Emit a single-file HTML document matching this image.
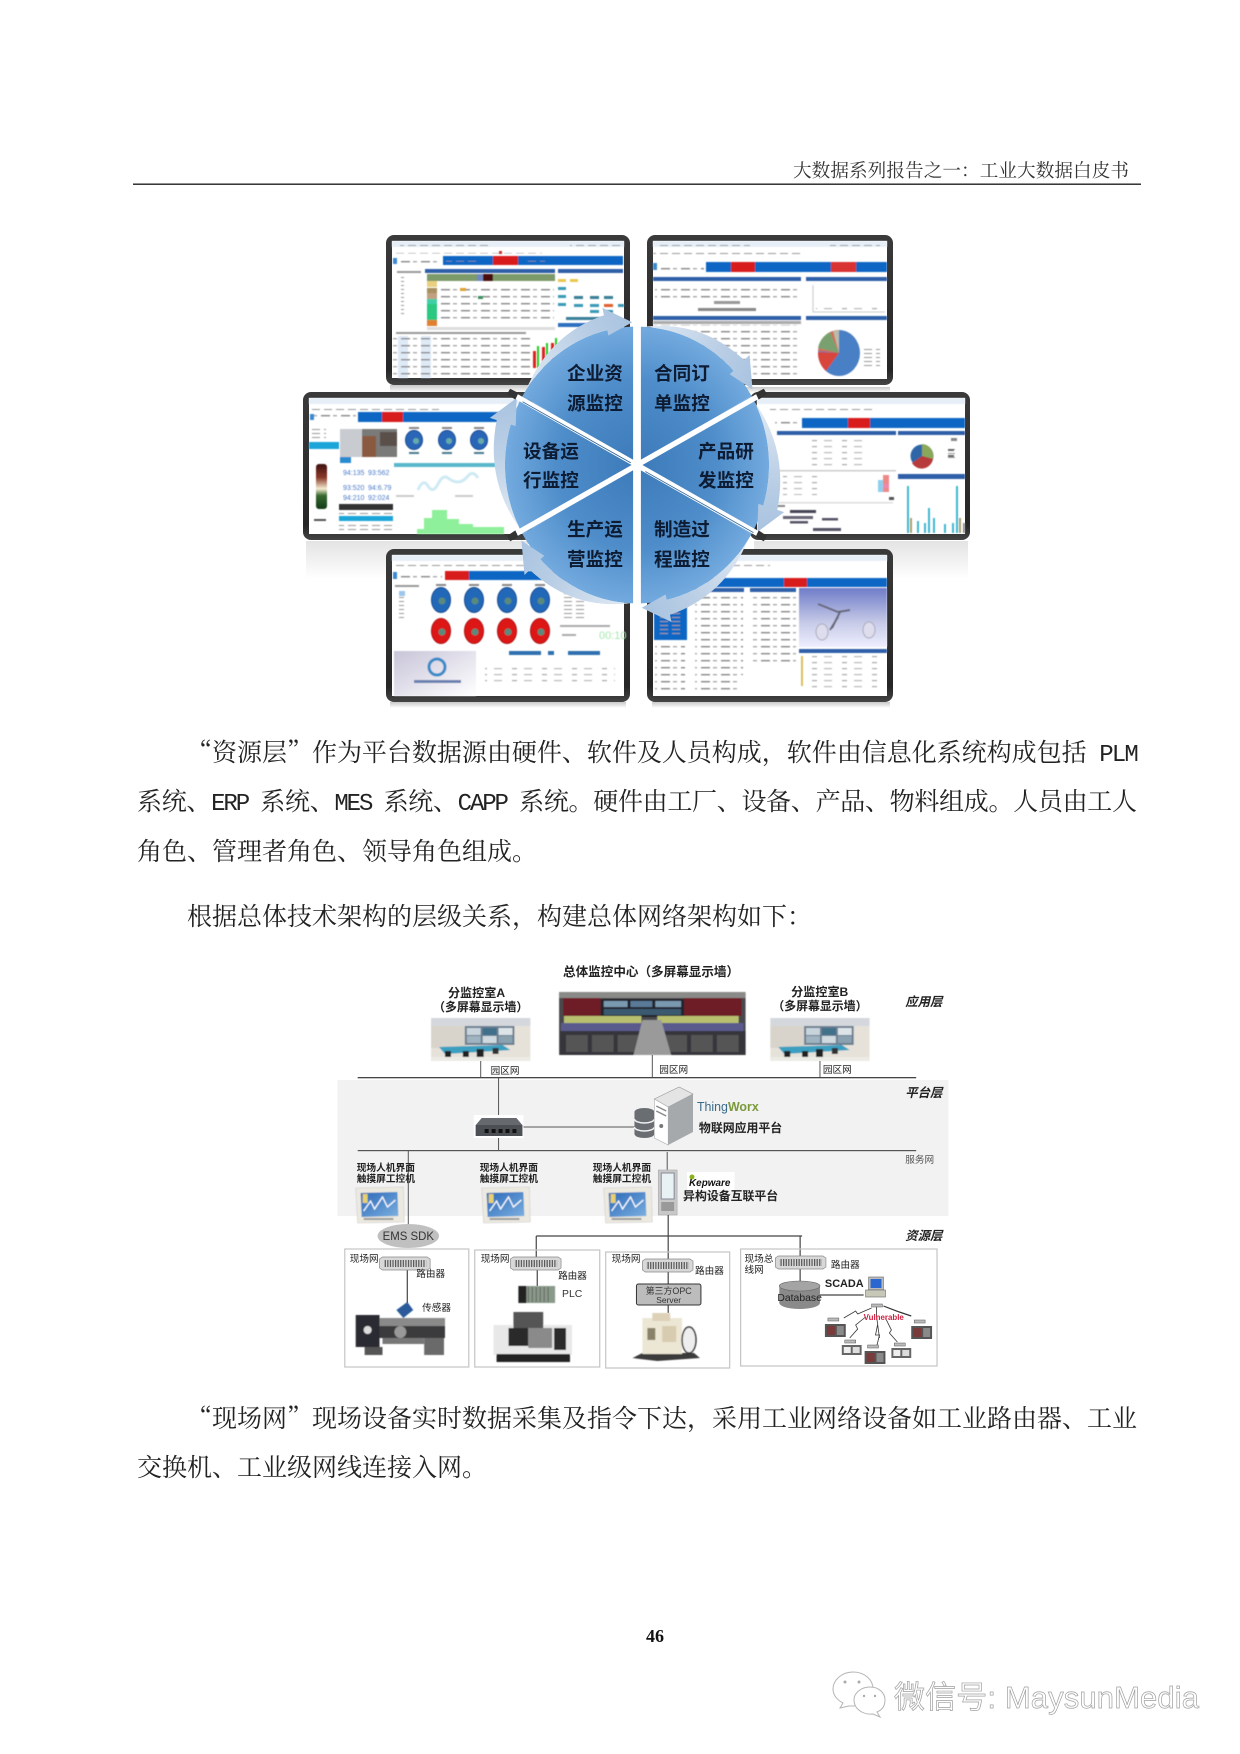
<!DOCTYPE html>
<html lang="zh-CN"><head><meta charset="utf-8"><title>工业大数据白皮书 46</title>
<style>
html,body{margin:0;padding:0;background:#fff}
svg{display:block}
.p{font-family:"Noto Serif CJK SC","Liberation Serif",serif;font-size:25px;fill:#222}
.m{font-family:"Liberation Mono",monospace;font-size:24px;letter-spacing:-1.8px}
.h{font-family:"Noto Serif CJK SC","Liberation Serif",serif;font-size:18.6px;fill:#333}
.w{font-family:"Liberation Sans","Noto Sans CJK SC",sans-serif;font-weight:700;font-size:18.6px;fill:#0d1c33}
.d{font-family:"Liberation Sans","Noto Sans CJK SC",sans-serif;fill:#222}
.db{font-weight:700}
.it{font-weight:700;font-style:italic;font-size:12.5px}
.t9{font-size:9.7px}
.t8{font-size:9px;fill:#444}
</style></head><body>
<svg xmlns="http://www.w3.org/2000/svg" width="1240" height="1754" viewBox="0 0 1240 1754">
<defs>
<filter id="b" x="-5%" y="-5%" width="110%" height="110%"><feGaussianBlur stdDeviation="0.6"/></filter>
<filter id="b2" x="-5%" y="-5%" width="110%" height="110%"><feGaussianBlur stdDeviation="0.7"/></filter>
<pattern id="tx" width="12" height="4" patternUnits="userSpaceOnUse"><rect x="0" y="1" width="8" height="1" fill="#9a9a9a"/></pattern>
<pattern id="tx2" width="20" height="7" patternUnits="userSpaceOnUse"><rect x="1" y="2" width="9" height="1.4" fill="#888"/><rect x="13" y="2" width="4" height="1.4" fill="#aaa"/></pattern>
<pattern id="tx3" width="30" height="6" patternUnits="userSpaceOnUse"><rect x="2" y="2" width="5" height="1.2" fill="#aaa"/><rect x="14" y="2" width="8" height="1.2" fill="#bbb"/></pattern>
<pattern id="rt" width="2.6" height="10" patternUnits="userSpaceOnUse"><rect width="1.2" height="10" fill="#555"/></pattern>
<linearGradient id="fr" x1="0" y1="0" x2="0" y2="1"><stop offset="0" stop-color="#3a3a3a"/><stop offset=".9" stop-color="#262626"/><stop offset="1" stop-color="#444"/></linearGradient>
<linearGradient id="rf" x1="0" y1="0" x2="0" y2="1"><stop offset="0" stop-color="#c8c8c8"/><stop offset="1" stop-color="#fff"/></linearGradient>
<linearGradient id="tl" x1="0" y1="0" x2="0" y2="1"><stop offset="0" stop-color="#401010"/><stop offset=".3" stop-color="#8a3a28"/><stop offset=".55" stop-color="#f4ecd0"/><stop offset=".7" stop-color="#3a6a30"/><stop offset="1" stop-color="#123a18"/></linearGradient>
<linearGradient id="lg" x1="0" y1="0" x2="1" y2="1"><stop offset="0" stop-color="#c8c4d8"/><stop offset="1" stop-color="#fff"/></linearGradient>
<linearGradient id="v3" x1="0" y1="0" x2="0" y2="1"><stop offset="0" stop-color="#6f7cc8"/><stop offset=".6" stop-color="#c8cce8"/><stop offset="1" stop-color="#eef"/></linearGradient>
<radialGradient id="sg" gradientUnits="userSpaceOnUse" cx="0" cy="0" r="128"><stop offset="0" stop-color="#3c7ab9"/><stop offset=".6" stop-color="#4e8dca"/><stop offset="1" stop-color="#74abdf"/></radialGradient>
<linearGradient id="ag" gradientUnits="userSpaceOnUse" x1="0" y1="-127" x2="110" y2="-70"><stop offset="0" stop-color="#e4ecf5"/><stop offset=".6" stop-color="#bcd0e6"/><stop offset="1" stop-color="#a9c3e0"/></linearGradient>
<linearGradient id="hm" x1="0" y1="0" x2="1" y2="1"><stop offset="0" stop-color="#2a68b8"/><stop offset="1" stop-color="#7cb0e0"/></linearGradient>
<g id="sec"><path d="M0,0 L0,-127 A127,127 0 0 1 110,-63.5 Z" fill="url(#sg)"/></g>
<g id="arr"><path d="M6.6,-126.8 Q62,-133 103.1,-96.2 L108.2,-100.9 L111.1,-69.4 L89.2,-83.2 L92.9,-86.6 A127,127 0 0 0 6.6,-126.8 Z" fill="url(#ag)"/></g>
<g id="room">
 <rect width="100" height="43" fill="#e6e2da"/>
 <rect width="100" height="8" fill="#d4d8dc"/>
 <rect x="0" y="8" width="34" height="22" fill="#d8d4cc"/>
 <rect x="34" y="8" width="50" height="19" fill="#6c7e90"/>
 <rect x="36" y="10" width="14" height="7" fill="#c8d4dc"/><rect x="52" y="10" width="14" height="7" fill="#3f6f8a"/><rect x="68" y="10" width="14" height="7" fill="#dde4e8"/>
 <rect x="36" y="18" width="14" height="7" fill="#9fb4c0"/><rect x="52" y="18" width="14" height="7" fill="#cfdae0"/><rect x="68" y="18" width="14" height="7" fill="#8aa2b0"/>
 <path d="M8,29 L72,27 L80,32 L14,36 Z" fill="#3c9fc0"/>
 <rect x="14" y="33" width="6" height="6" fill="#222"/><rect x="32" y="33" width="6" height="7" fill="#222"/><rect x="46" y="31" width="7" height="8" fill="#222"/><rect x="62" y="30" width="6" height="6" fill="#333"/>
 <rect x="0" y="39" width="100" height="4" fill="#ecebe5"/>
</g>
<g id="hmi">
 <path d="M1,1 L49,0 L50,35 L3,36 Z" fill="#ece9e0" stroke="#ccc" stroke-width=".6"/>
 <path d="M6,6 L43,5 L44,29 L7,30 Z" fill="url(#hm)"/>
 <path d="M9,24 L16,14 L20,22 L28,10 L33,20 L41,13" stroke="#fff" fill="none" stroke-width="1.2"/>
 <rect x="8" y="7" width="5" height="9" fill="#e8d070"/>
 <rect x="9" y="31" width="30" height="2" fill="#999"/>
</g>
<g id="rtr">
 <path d="M0,2 L3,0 L48,0 L51,2 L51,11 L48,13 L3,13 L0,11 Z" fill="#d8d8d8" stroke="#888" stroke-width=".7"/>
 <rect x="4" y="3" width="43" height="7" fill="url(#rt)"/>
</g>
<g id="rk"><rect width="21" height="13" fill="#555"/><rect x="2" y="2" width="8" height="9" fill="#7a3a3a"/><rect x="12" y="2" width="7" height="9" fill="#8a8a8a"/><rect x="3" y="-6" width="11" height="3" fill="#bbb" stroke="#555" stroke-width=".5"/></g>
<g id="mc"><rect width="20" height="10" fill="#666"/><rect x="2" y="2" width="7" height="6" fill="#eee"/><rect x="11" y="2" width="7" height="6" fill="#ddd"/><rect x="3" y="-5" width="11" height="3" fill="#bbb" stroke="#555" stroke-width=".5"/></g>
</defs>

<!-- header -->
<text class="h" x="793" y="177" textLength="336" lengthAdjust="spacing">大数据系列报告之一：工业大数据白皮书</text>
<rect x="133" y="183.5" width="1008" height="1.4" fill="#222"/>

<!-- reflections -->
<rect x="390" y="385" width="236" height="8" fill="url(#rf)"/>
<rect x="652" y="387" width="238" height="6" fill="url(#rf)"/>
<rect x="306" y="541" width="222" height="38" fill="url(#rf)" opacity=".5"/>
<rect x="754" y="541" width="214" height="38" fill="url(#rf)" opacity=".5"/>
<rect x="390" y="702" width="236" height="6" fill="url(#rf)"/>
<rect x="652" y="702" width="238" height="6" fill="url(#rf)"/>

<!-- panel TL -->
<rect x="386" y="235" width="244" height="150" rx="8" fill="url(#fr)"/>
<rect x="392" y="241" width="232" height="137" fill="#fff"/>
<g filter="url(#b)">
 <rect x="392" y="241" width="232" height="6" fill="#e6eff7"/><rect x="400" y="245" width="90" height="2" fill="url(#tx)"/>
 <rect x="570" y="244" width="50" height="3" fill="url(#tx)"/>
 <rect x="392" y="251" width="150" height="2.5" fill="url(#tx)"/><rect x="499" y="251" width="3" height="3" fill="#c33"/>
 <rect x="396" y="258" width="44" height="6" fill="url(#tx2)"/><rect x="393" y="258" width="4" height="6" fill="#3a8ad0"/>
 <rect x="443" y="256" width="180" height="9" fill="#0b66c3"/><rect x="493" y="256" width="25" height="9" fill="#d81e1e"/>
 <rect x="446" y="259" width="30" height="2.5" fill="url(#tx)"/><rect x="525" y="259" width="20" height="2.5" fill="url(#tx)"/>
 <rect x="425" y="269" width="130" height="4" fill="#2d5fa8"/><rect x="558" y="269" width="65" height="4" fill="#2d5fa8"/>
 <rect x="397" y="271" width="24" height="2" fill="#999"/><rect x="401" y="277" width="4" height="40" fill="url(#tx)"/>
 <rect x="427" y="274" width="128" height="7" fill="#7d9a6a"/><rect x="477" y="274" width="8" height="7" fill="#6f88c0"/><rect x="483" y="274" width="10" height="7" fill="#4a1010"/>
 <rect x="427" y="281" width="10" height="6" fill="#e8d080"/><rect x="427" y="288" width="10" height="5" fill="#a89060"/><rect x="427" y="293" width="10" height="6" fill="#c0a080"/>
 <rect x="427" y="299" width="10" height="5" fill="#40d0a8"/><rect x="427" y="304" width="10" height="16" fill="#2cc880"/><rect x="427" y="320" width="10" height="6" fill="#e08030"/>
 <rect x="438" y="286" width="116" height="36" fill="url(#tx2)"/>
 <rect x="460" y="288" width="6" height="3" fill="#e0a030" /><rect x="478" y="296" width="5" height="3" fill="#3a9060"/>
 <rect x="427" y="327" width="128" height="3" fill="#ddd"/>
 <rect x="558" y="279" width="8" height="3" fill="#e8c850"/><rect x="570" y="279" width="8" height="3" fill="#e8c850"/>
 <rect x="558" y="287" width="8" height="3" fill="#3a9ab8"/><rect x="558" y="295" width="8" height="3" fill="#3a9ab8"/><rect x="558" y="303" width="8" height="3" fill="#3a9ab8"/>
 <rect x="574" y="296" width="9" height="3" fill="#3a7f98"/><rect x="590" y="296" width="9" height="3" fill="#3a7f98"/><rect x="604" y="296" width="9" height="3" fill="#3a7f98"/>
 <rect x="574" y="304" width="9" height="3" fill="#3a9ab8"/><rect x="590" y="304" width="9" height="3" fill="#3a9ab8"/><rect x="604" y="304" width="9" height="3" fill="#e06030"/>
 <rect x="590" y="310" width="9" height="3" fill="#3a9ab8"/><rect x="604" y="310" width="9" height="3" fill="#3a9ab8"/><rect x="618" y="304" width="6" height="3" fill="#3a9ab8"/>
 <rect x="566" y="317" width="40" height="3" fill="#3a7f98"/><rect x="558" y="323" width="65" height="4" fill="#2d6fc0"/>
 <rect x="396" y="332" width="130" height="2" fill="#999"/>
 <rect x="398" y="336" width="10" height="42" fill="#dfeaf7"/><rect x="421" y="336" width="10" height="42" fill="#dfeaf7"/>
 <rect x="392" y="336" width="140" height="42" fill="url(#tx2)"/>
 <rect x="533" y="351" width="3" height="17" fill="#d22"/><rect x="537" y="346" width="2" height="22" fill="#2c2"/>
 <rect x="542" y="347" width="3" height="21" fill="#d22"/><rect x="546" y="343" width="2" height="25" fill="#2c2"/><rect x="551" y="343" width="3" height="20" fill="#d22"/><rect x="555" y="338" width="2" height="24" fill="#2c2"/>
</g>

<!-- panel TR -->
<rect x="647" y="235" width="246" height="150" rx="8" fill="url(#fr)"/>
<rect x="653" y="241" width="234" height="138" fill="#fff"/>
<g filter="url(#b)">
 <rect x="653" y="241" width="234" height="6" fill="#e6eff7"/><rect x="660" y="245" width="90" height="2" fill="url(#tx)"/><rect x="830" y="244" width="50" height="3" fill="url(#tx)"/>
 <rect x="653" y="252" width="150" height="2.5" fill="url(#tx)"/>
 <rect x="656" y="263" width="48" height="7" fill="url(#tx2)"/><rect x="653" y="263" width="4" height="7" fill="#3a8ad0"/>
 <rect x="706" y="262" width="181" height="10" fill="#0b66c3"/><rect x="731" y="262" width="24" height="10" fill="#d81e1e"/><rect x="831" y="262" width="25" height="10" fill="#d83030"/>
 <rect x="708" y="266" width="120" height="2" fill="url(#tx)"/>
 <rect x="653" y="277" width="148" height="4" fill="#2d5fa8"/><rect x="806" y="277" width="81" height="4" fill="#2d5fa8"/>
 <rect x="655" y="284" width="144" height="16" fill="url(#tx2)"/>
 <rect x="714" y="301" width="26" height="3" fill="#999"/><rect x="698" y="308" width="58" height="3" fill="#888"/>
 <path d="M813,285 V312 H885" stroke="#bbb" fill="none" stroke-width=".8"/><rect x="816" y="304" width="68" height="7" fill="url(#tx3)"/>
 <rect x="653" y="316" width="148" height="4" fill="#2d5fa8"/><rect x="806" y="316" width="81" height="4" fill="#2d5fa8"/>
 <rect x="653" y="321" width="148" height="3" fill="#aaa"/><rect x="653" y="325" width="148" height="52" fill="url(#tx2)"/>
 <ellipse cx="839" cy="353" rx="21" ry="23" fill="#4a7fc4"/>
 <path d="M839,353 L839,330 A21,23 0 0 0 818,351 Z" fill="#d0705a"/>
 <path d="M839,353 L830,332 A21,23 0 0 0 818,348 Z" fill="#7aa070"/>
 <path d="M839,353 L818,352 A21,23 0 0 0 826,371 Z" fill="#d8453a"/>
 <path d="M839,353 L833,331 L839,330 Z" fill="#bba"/>
 <rect x="864" y="348" width="16" height="18" fill="url(#tx)"/>
</g>

<!-- panel ML -->
<rect x="303" y="392" width="229" height="148" rx="8" fill="url(#fr)"/>
<rect x="309" y="398" width="218" height="136" fill="#fff"/>
<g filter="url(#b)">
 <rect x="309" y="398" width="218" height="6" fill="#e6eff7"/><rect x="318" y="402" width="90" height="2" fill="url(#tx)"/><rect x="475" y="402" width="40" height="3" fill="url(#tx)"/>
 <rect x="309" y="408" width="130" height="2.5" fill="url(#tx)"/>
 <rect x="310" y="414" width="46" height="6" fill="url(#tx2)"/><rect x="310" y="414" width="4" height="6" fill="#3a8ad0"/>
 <rect x="358" y="412" width="142" height="10" fill="#0b66c3"/><rect x="382" y="412" width="21" height="10" fill="#d81e1e"/>
 <rect x="309" y="442" width="30" height="7" fill="#1ea5d8"/>
 <rect x="310" y="427" width="16" height="12" fill="url(#tx)"/>
 <rect x="340" y="429" width="57" height="28" fill="#7a7a78"/><rect x="340" y="429" width="22" height="28" fill="#c8ccd0"/><rect x="362" y="436" width="14" height="21" fill="#8a5a40"/><rect x="380" y="432" width="17" height="14" fill="#5a5048"/>
 <ellipse cx="414" cy="440" rx="8.5" ry="9.5" fill="#2a66b8" stroke="#184a90"/><circle cx="416" cy="441" r="3" fill="#6aa"/>
 <ellipse cx="447" cy="440" rx="8.5" ry="9.5" fill="#2a66b8" stroke="#184a90"/><circle cx="449" cy="441" r="3" fill="#6aa"/>
 <ellipse cx="479" cy="440" rx="8.5" ry="9.5" fill="#2a66b8" stroke="#184a90"/><circle cx="481" cy="441" r="3" fill="#6aa"/>
 <rect x="409" y="427" width="10" height="2" fill="#888"/><rect x="442" y="427" width="10" height="2" fill="#888"/><rect x="474" y="427" width="10" height="2" fill="#888"/>
 <rect x="409" y="452" width="10" height="2" fill="#4a7a8a"/><rect x="442" y="452" width="10" height="2" fill="#4a7a8a"/><rect x="474" y="452" width="10" height="2" fill="#4a7a8a"/>
 <rect x="316" y="464" width="11" height="45" rx="3" fill="url(#tl)"/>
 <rect x="340" y="457" width="11" height="6" fill="#2a8ad0"/>
 <text class="d" x="343" y="475" font-size="7" style="fill:#4a7ac8">94:135</text><text class="d" x="368" y="475" font-size="7" style="fill:#4a7ac8">93:562</text>
 <text class="d" x="343" y="490" font-size="7" style="fill:#4a7ac8">93:520</text><text class="d" x="368" y="490" font-size="7" style="fill:#4a7ac8">94:6.79</text>
 <text class="d" x="343" y="500" font-size="7" style="fill:#4a7ac8">94:210</text><text class="d" x="368" y="500" font-size="7" style="fill:#4a7ac8">92:024</text>
 <rect x="339" y="504" width="54" height="6" fill="#333"/><rect x="339" y="511" width="54" height="3" fill="url(#tx)"/><rect x="339" y="516" width="54" height="5" fill="#1ea5d8"/><rect x="339" y="524" width="54" height="7" fill="url(#tx)"/>
 <rect x="314" y="519" width="12" height="2" fill="#555"/>
 <rect x="394" y="463" width="103" height="4" fill="#5ab8cc"/>
 <path d="M418,490 q5,-12 10,-4 t10,-2 t10,-6 t10,4 t10,-6 t10,2" stroke="#cfeaf4" stroke-width="3" fill="none"/>
 <rect x="396" y="495" width="18" height="2" fill="#ccc"/><rect x="455" y="495" width="18" height="2" fill="#ccc"/>
 <path d="M402,534 L417,534 L417,529 L424,529 L424,518 L432,518 L432,510 L447,510 L447,519 L459,519 L459,524 L473,524 L473,527 L504,527 L504,534 Z" fill="#8ef09a"/>
</g>

<!-- panel MR -->
<rect x="750" y="392" width="220" height="148" rx="8" fill="url(#fr)"/>
<rect x="757" y="398" width="208" height="136" fill="#fff"/>
<g filter="url(#b)">
 <rect x="757" y="398" width="208" height="6" fill="#e6eff7"/><rect x="775" y="402" width="70" height="2" fill="url(#tx)"/><rect x="917" y="402" width="40" height="3" fill="url(#tx)"/>
 <rect x="770" y="408" width="105" height="2.5" fill="url(#tx)"/>
 <rect x="775" y="419" width="26" height="7" fill="url(#tx2)"/>
 <rect x="802" y="418" width="163" height="10" fill="#0b66c3"/><rect x="848" y="418" width="22" height="10" fill="#d81e1e"/>
 <rect x="777" y="431" width="119" height="4" fill="#2d5fa8"/><rect x="898" y="431" width="67" height="4" fill="#2d5fa8"/>
 <rect x="810" y="440" width="60" height="30" fill="url(#tx3)"/>
 <circle cx="922" cy="456" r="11.5" fill="#2f66a8"/><path d="M922,456 L922,444 A11.5,12 0 0 1 933,459 Z" fill="#8aa85a"/><path d="M922,456 L933,459 A11.5,12 0 0 1 912,463 Z" fill="#b83a3a"/>
 <rect x="948" y="449" width="7" height="11" fill="url(#tx)"/><rect x="948" y="449" width="6" height="2" fill="#666"/><rect x="948" y="455" width="6" height="2" fill="#666"/><rect x="951" y="438" width="6" height="3" fill="#888"/>
 <rect x="777" y="470" width="119" height="1.5" fill="#ccc"/><rect x="898" y="474" width="67" height="5" fill="#2d5fa8"/>
 <rect x="783" y="475" width="40" height="20" fill="url(#tx3)"/>
 <rect x="883" y="475" width="6" height="5" fill="#e88"/><rect x="883" y="480" width="6" height="4" fill="#e88"/><rect x="883" y="484" width="6" height="4" fill="#e8a"/><rect x="883" y="488" width="6" height="4" fill="#e88"/>
 <rect x="878" y="480" width="5" height="12" fill="#8cd0ee"/><rect x="889" y="497" width="5" height="3" fill="#555"/>
 <rect x="778" y="502" width="115" height="1.5" fill="#ddd"/>
 <rect x="775" y="505" width="10" height="2" fill="#888"/><rect x="790" y="510" width="26" height="3" fill="#445"/><rect x="783" y="516" width="30" height="3" fill="#667"/><rect x="790" y="521" width="18" height="2.5" fill="#556"/><rect x="822" y="518" width="16" height="2.5" fill="#556"/><rect x="813" y="528" width="28" height="3" fill="#556"/>
 <rect x="907" y="486" width="2" height="47" fill="#40b8d0"/><rect x="910" y="518" width="2" height="15" fill="#a8a070"/>
 <rect x="917" y="521" width="2" height="12" fill="#40b8d0"/><rect x="924" y="523" width="2" height="10" fill="#40b8d0"/><rect x="928" y="508" width="2" height="25" fill="#40b8d0"/><rect x="933" y="518" width="2" height="15" fill="#40b8d0"/>
 <rect x="944" y="524" width="2" height="9" fill="#40b8d0"/><rect x="952" y="523" width="2" height="10" fill="#40b8d0"/><rect x="956" y="486" width="2" height="47" fill="#40b8d0"/><rect x="959" y="518" width="2" height="15" fill="#a8a070"/><rect x="963" y="523" width="2" height="10" fill="#888"/>
</g>

<!-- panel BL -->
<rect x="386" y="549" width="244" height="153" rx="8" fill="url(#fr)"/>
<rect x="392" y="555" width="232" height="141" fill="#fff"/>
<g filter="url(#b)">
 <rect x="392" y="555" width="232" height="6" fill="#e6eff7"/><rect x="400" y="559" width="90" height="2" fill="url(#tx)"/><rect x="570" y="558" width="50" height="3" fill="url(#tx)"/>
 <rect x="392" y="565" width="150" height="2.5" fill="url(#tx)"/>
 <rect x="396" y="572" width="46" height="7" fill="url(#tx2)"/><rect x="393" y="572" width="4" height="7" fill="#3a8ad0"/>
 <rect x="445" y="571" width="178" height="9" fill="#0b66c3"/><rect x="445" y="571" width="24" height="9" fill="#d81e1e"/>
 <rect x="395" y="585" width="24" height="2" fill="#999"/><rect x="399" y="590" width="5" height="30" fill="url(#tx)"/><rect x="399" y="591" width="6" height="5" fill="#9cc6ea"/>
 <g fill="#2268b8" stroke="#184a90"><ellipse cx="441" cy="600" rx="9.5" ry="12.5"/><ellipse cx="474" cy="600" rx="9.5" ry="12.5"/><ellipse cx="507" cy="600" rx="9.5" ry="12.5"/><ellipse cx="540" cy="600" rx="9.5" ry="12.5"/></g>
 <g fill="#dd1818" stroke="#b01010"><ellipse cx="441" cy="631" rx="9.5" ry="12.5"/><ellipse cx="474" cy="631" rx="9.5" ry="12.5"/><ellipse cx="507" cy="631" rx="9.5" ry="12.5"/><ellipse cx="540" cy="631" rx="9.5" ry="12.5"/></g>
 <g fill="#5a8a7a"><circle cx="442" cy="601" r="3.5"/><circle cx="475" cy="601" r="3.5"/><circle cx="508" cy="601" r="3.5"/><circle cx="541" cy="601" r="3.5"/><circle cx="442" cy="632" r="3.5"/><circle cx="475" cy="632" r="3.5"/><circle cx="508" cy="632" r="3.5"/><circle cx="541" cy="632" r="3.5"/></g>
 <rect x="436" y="584" width="10" height="2" fill="#888"/><rect x="469" y="584" width="10" height="2" fill="#888"/><rect x="502" y="584" width="10" height="2" fill="#888"/><rect x="535" y="584" width="10" height="2" fill="#888"/>
 <rect x="560" y="590" width="28" height="30" fill="url(#tx)"/>
 <rect x="394" y="651" width="82" height="45" fill="url(#lg)"/>
 <circle cx="437" cy="667" r="8" fill="none" stroke="#3a8ac8" stroke-width="3"/><rect x="414" y="680" width="47" height="3" fill="#6a80b0"/>
 <rect x="509" y="651" width="32" height="4" fill="#2d6fb0"/><rect x="548" y="651" width="6" height="4" fill="#2d6fb0"/><rect x="568" y="651" width="32" height="4" fill="#2d6fb0"/>
 <rect x="560" y="625" width="50" height="2" fill="#aaa"/><rect x="562" y="634" width="14" height="2" fill="#aaa"/>
 <text class="d" x="599" y="639" font-size="11" style="fill:#a8e8b0">00:10</text>
 <rect x="485" y="668" width="130" height="18" fill="url(#tx3)"/>
</g>

<!-- panel BR -->
<rect x="647" y="549" width="246" height="153" rx="8" fill="url(#fr)"/>
<rect x="653" y="555" width="234" height="141" fill="#fff"/>
<g filter="url(#b)">
 <rect x="653" y="555" width="234" height="6" fill="#e6eff7"/><rect x="830" y="558" width="50" height="3" fill="url(#tx)"/>
 <rect x="720" y="565" width="50" height="2.5" fill="url(#tx)"/>
 <rect x="706" y="578" width="181" height="9" fill="#0b66c3"/><rect x="784" y="578" width="23" height="9" fill="#d81e1e"/>
 <rect x="694" y="588" width="50" height="4" fill="#2d5fa8"/><rect x="750" y="588" width="46" height="4" fill="#2d5fa8"/>
 <rect x="654" y="602" width="33" height="38" fill="#0b66c3"/><rect x="656" y="605" width="28" height="32" fill="url(#tx)"/>
 <rect x="695" y="595" width="48" height="80" fill="url(#tx2)"/><rect x="752" y="595" width="44" height="72" fill="url(#tx2)"/>
 <rect x="655" y="645" width="30" height="48" fill="url(#tx2)"/><rect x="695" y="675" width="45" height="19" fill="url(#tx2)"/>
 <rect x="799" y="588" width="88" height="59" fill="url(#v3)"/>
 <path d="M818,604 L838,612 L850,610 M840,612 L832,628 M838,617 L830,630" stroke="#667" stroke-width="2" fill="none"/>
 <ellipse cx="822" cy="632" rx="6" ry="8" fill="#dde" stroke="#aab"/><ellipse cx="869" cy="630" rx="6" ry="8" fill="#dde" stroke="#aab"/>
 <rect x="799" y="649" width="88" height="4" fill="#2d5fa8"/>
 <rect x="802" y="656" width="80" height="36" fill="url(#tx3)"/><rect x="801" y="656" width="2" height="30" fill="#d8c060"/>
</g>

<!-- central wheel -->
<g transform="translate(637,465) scale(1.04,1.09)">
 <use href="#sec"/><use href="#sec" transform="rotate(60)"/><use href="#sec" transform="rotate(120)"/><use href="#sec" transform="rotate(180)"/><use href="#sec" transform="rotate(240)"/><use href="#sec" transform="rotate(300)"/>
 <use href="#arr"/><use href="#arr" transform="rotate(60)"/><use href="#arr" transform="rotate(120)"/><use href="#arr" transform="rotate(180)"/><use href="#arr" transform="rotate(240)"/><use href="#arr" transform="rotate(300)"/>
 <g stroke="#fff" stroke-linecap="round">
  <line x1="0" y1="-136" x2="0" y2="136" stroke-width="7.5"/>
  <line x1="-118" y1="-64" x2="118" y2="64" stroke-width="5"/>
  <line x1="118" y1="-64" x2="-118" y2="64" stroke-width="5"/>
 </g>
 <line x1="-110" y1="-58" x2="-6" y2="-2" stroke="#3a6a9a" stroke-width=".8"/>
 <line x1="8" y1="6" x2="112" y2="62" stroke="#3a6a9a" stroke-width=".8"/>
 <path d="M-122,-70 l8,4 -3,6 -8,-5Z M122,-70 l-8,4 3,6 8,-5Z M-122,70 l8,-4 -3,-6 -8,5Z M122,70 l-8,-4 3,-6 8,5Z" fill="#333"/>
</g>
<text class="w" x="567" y="380">企业资</text><text class="w" x="567" y="410">源监控</text>
<text class="w" x="654" y="380">合同订</text><text class="w" x="654" y="410">单监控</text>
<text class="w" x="523" y="458">设备运</text><text class="w" x="523" y="487">行监控</text>
<text class="w" x="698" y="458">产品研</text><text class="w" x="698" y="487">发监控</text>
<text class="w" x="567" y="536">生产运</text><text class="w" x="567" y="566">营监控</text>
<text class="w" x="654" y="536">制造过</text><text class="w" x="654" y="566">程监控</text>

<!-- paragraph 1 -->
<text class="p" x="187" y="761" textLength="950" lengthAdjust="spacing">“资源层”作为平台数据源由硬件、软件及人员构成，软件由信息化系统构成包括<tspan class="m"> PLM</tspan></text>
<text class="p" x="137" y="810" textLength="1000" lengthAdjust="spacing">系统、<tspan class="m">ERP </tspan>系统、<tspan class="m">MES </tspan>系统、<tspan class="m">CAPP </tspan>系统。硬件由工厂、设备、产品、物料组成。人员由工人</text>
<text class="p" x="137" y="860">角色、管理者角色、领导角色组成。</text>
<text class="p" x="187" y="925">根据总体技术架构的层级关系，构建总体网络架构如下：</text>

<!-- network diagram -->
<g transform="translate(320,0) scale(.992,1) translate(-320,0)">
 <rect x="337.5" y="1080" width="616" height="136" fill="#f2f2f2"/>
 <text class="d db" x="565" y="976" font-size="12.7">总体监控中心（多屏幕显示墙）</text>
 <text class="d db" x="449" y="997" font-size="12.2">分监控室A</text><text class="d db" x="434" y="1011" font-size="12">（多屏幕显示墙）</text>
 <text class="d db" x="795" y="996" font-size="12.2">分监控室B</text><text class="d db" x="776" y="1010" font-size="12">（多屏幕显示墙）</text>
 <text class="d it" x="910" y="1006">应用层</text><text class="d it" x="910" y="1097">平台层</text><text class="d it" x="910" y="1240">资源层</text>

 <!-- rooms -->
 <g filter="url(#b)"><use href="#room" transform="translate(432,1018)"/><use href="#room" transform="translate(774,1018)"/>
 <rect x="561" y="992" width="188" height="63" fill="#4a4a4e"/><rect x="561" y="992" width="188" height="6" fill="#8a8a88"/>
 <rect x="565" y="998" width="38" height="18" fill="#6e1f25"/><rect x="687" y="998" width="58" height="18" fill="#6e1f25"/>
 <rect x="603" y="999" width="84" height="18" fill="#20242c"/><rect x="606" y="1001" width="24" height="6" fill="#7a9ab0"/><rect x="633" y="1001" width="22" height="6" fill="#5a7a98"/><rect x="658" y="1001" width="26" height="6" fill="#7a9ab0"/><rect x="606" y="1009" width="78" height="6" fill="#3a5a70"/>
 <rect x="566" y="1016" width="78" height="7" fill="#b8c070"/><rect x="660" y="1016" width="82" height="7" fill="#b8c070"/>
 <rect x="563" y="1023" width="82" height="8" fill="#5a5a8c"/><rect x="665" y="1023" width="82" height="8" fill="#5a5a8c"/>
 <rect x="562" y="1031" width="84" height="24" fill="#35353a"/><rect x="664" y="1031" width="85" height="24" fill="#35353a"/>
 <rect x="568" y="1035" width="22" height="17" fill="#555"/><rect x="594" y="1035" width="22" height="17" fill="#555"/><rect x="620" y="1035" width="22" height="17" fill="#555"/>
 <rect x="668" y="1035" width="22" height="17" fill="#555"/><rect x="694" y="1035" width="22" height="17" fill="#555"/><rect x="720" y="1035" width="22" height="17" fill="#555"/>
 <path d="M645,1020 L664,1020 L674,1055 L636,1055 Z" fill="#9a9a9a"/></g>

 <text class="d t9" x="492" y="1074">园区网</text><text class="d t9" x="662" y="1073">园区网</text><text class="d t9" x="827" y="1073">园区网</text>
 <g stroke="#555" stroke-width="1" fill="none">
  <path d="M482,1061 V1078 M655,1055 V1078 M824,1061 V1078"/>
  <path d="M500,1078 V1115 M500,1138 V1151 M525,1127 H637"/>
  <path d="M409,1151 V1227 M670,1152 V1170"/>
 </g>
 <rect x="358" y="1077" width="563" height="1.3" fill="#444"/>
 <rect x="358" y="1150" width="563" height="1.2" fill="#555"/>

 <!-- switch -->
 <rect x="475" y="1115" width="50" height="23" fill="#fff"/>
 <path d="M477,1125 L483,1118 L518,1118 L524,1125 L524,1136 L477,1136 Z" fill="#666a6e"/>
 <rect x="477" y="1125" width="47" height="11" fill="#4c5054"/>
 <g fill="#111"><rect x="486" y="1129" width="4" height="4"/><rect x="493" y="1129" width="4" height="4"/><rect x="500" y="1129" width="4" height="4"/><rect x="507" y="1129" width="4" height="4"/><rect x="514" y="1129" width="4" height="4"/></g>

 <!-- server and db -->
 <path d="M637,1112 a10,4 0 0 1 20,0 v22 a10,4 0 0 1 -20,0 Z" fill="#6a6e72"/>
 <path d="M637,1119 a10,4 0 0 0 20,0 M637,1127 a10,4 0 0 0 20,0" stroke="#f2f2f2" fill="none" stroke-width="1.5"/>
 <path d="M657,1099 L682,1087 L696,1094 L671,1107 Z" fill="#e4e4e4" stroke="#999" stroke-width=".6"/>
 <path d="M657,1099 L671,1107 L671,1145 L657,1138 Z" fill="#fff" stroke="#aaa" stroke-width=".6"/>
 <path d="M671,1107 L696,1094 L696,1132 L671,1145 Z" fill="#a6a9ac"/>
 <path d="M659,1106 L669,1111 M659,1111 L669,1116" stroke="#888" stroke-width="1.4"/>
 <circle cx="664" cy="1126" r="2" fill="#777"/>
 <text x="700" y="1111" font-family="Liberation Sans,sans-serif" font-size="12.5"><tspan fill="#3a6a8a">Thing</tspan><tspan fill="#7a9a3a" font-weight="700">Worx</tspan></text>
 <text class="d db" x="702" y="1132" font-size="12">物联网应用平台</text>
 <text class="d t9" x="910" y="1163" style="fill:#555">服务网</text>

 <!-- HMI -->
 <text class="d db" x="357" y="1171" font-size="9.8">现场人机界面</text><text class="d db" x="357" y="1182" font-size="9.8">触摸屏工控机</text>
 <text class="d db" x="481" y="1171" font-size="9.8">现场人机界面</text><text class="d db" x="481" y="1182" font-size="9.8">触摸屏工控机</text>
 <text class="d db" x="595" y="1171" font-size="9.8">现场人机界面</text><text class="d db" x="595" y="1182" font-size="9.8">触摸屏工控机</text>
 <use href="#hmi" transform="translate(355,1187)" filter="url(#b)"/><use href="#hmi" transform="translate(482,1187)" filter="url(#b)"/><use href="#hmi" transform="translate(605,1187)" filter="url(#b)"/>

 <!-- kepware -->
 <rect x="661" y="1170" width="19" height="45" fill="#c8c8c8" stroke="#aaa" stroke-width=".6"/>
 <rect x="664" y="1173" width="13" height="26" fill="#e8f2f4" stroke="#889"/>
 <rect x="664" y="1202" width="13" height="9" fill="#999"/>
 <rect x="690" y="1172" width="48" height="18" fill="#fff"/>
 <circle cx="695" cy="1177" r="2.5" fill="#8ab020"/>
 <text x="692" y="1186" font-family="Liberation Sans,sans-serif" font-size="10" font-weight="700" font-style="italic" fill="#111">Kepware</text>
 <text class="d db" x="686" y="1200" font-size="12">异构设备互联平台</text>

 <!-- EMS -->
 <ellipse cx="409" cy="1236" rx="31" ry="12" fill="#c0c0c0"/>
 <text class="d" x="409" y="1240" font-size="11.5" text-anchor="middle" style="fill:#333">EMS SDK</text>

 <!-- bus -->
 <g stroke="#444" stroke-width="1.2" fill="none">
  <path d="M671,1215 V1284 M538,1236 H806 M538,1236 V1258 M804,1236 V1258"/>
  <path d="M408,1269 V1303 M539,1270 V1286 M671,1305 V1313 M804,1268 V1281 M822,1295 H868"/>
 </g>

 <!-- boxes -->
 <g fill="none" stroke="#c4c4c4" stroke-width="1.2">
  <rect x="345" y="1249" width="125" height="118"/><rect x="476" y="1250" width="126" height="117"/><rect x="608" y="1252" width="125" height="116"/><rect x="744" y="1249" width="198" height="117"/>
 </g>
 <text class="d t9" x="350" y="1262">现场网</text><text class="d t9" x="482" y="1262">现场网</text><text class="d t9" x="614" y="1262">现场网</text>
 <text class="d t9" x="748" y="1262">现场总</text><text class="d t9" x="748" y="1273">线网</text>
 <use href="#rtr" transform="translate(380,1257)"/><use href="#rtr" transform="translate(512,1257)"/><use href="#rtr" transform="translate(645,1259)"/><use href="#rtr" transform="translate(779,1256)"/>
 <text class="d t9" x="417" y="1277">路由器</text><text class="d t9" x="560" y="1279">路由器</text><text class="d t9" x="698" y="1274">路由器</text><text class="d t9" x="835" y="1268">路由器</text>
 <text class="d t9" x="423" y="1311">传感器</text>

 <!-- sensor + lathe -->
 <g filter="url(#b)">
  <path d="M397,1310 L408,1302 L414,1310 L404,1318 Z" fill="#2a5a9a"/>
  <rect x="358" y="1318" width="88" height="8" fill="#8a8a8a"/>
  <rect x="356" y="1315" width="24" height="32" fill="#2c2c30"/>
  <rect x="380" y="1326" width="66" height="12" fill="#3a3a3e"/>
  <circle cx="401" cy="1332" r="6" fill="#999"/>
  <circle cx="368" cy="1330" r="4" fill="#ddd"/>
  <rect x="365" y="1347" width="18" height="8" fill="#555"/><rect x="425" y="1338" width="20" height="17" fill="#6a6a6a"/>
  <rect x="383" y="1338" width="42" height="6" fill="#777"/>
 </g>

 <!-- PLC + CNC -->
 <g filter="url(#b)">
  <rect x="520" y="1286" width="37" height="17" fill="#8a9a8a"/><rect x="520" y="1286" width="8" height="17" fill="#222"/>
  <path d="M530,1287 V1302 M534,1287 V1302 M538,1287 V1302 M542,1287 V1302 M546,1287 V1302 M550,1287 V1302" stroke="#555" stroke-width=".8"/>
  <rect x="495" y="1325" width="79" height="30" fill="#e8e8e8"/>
  <rect x="515" y="1312" width="30" height="16" fill="#555"/>
  <rect x="510" y="1328" width="20" height="18" fill="#2a2a2a"/><rect x="530" y="1328" width="24" height="20" fill="#8a8a8a"/><rect x="556" y="1328" width="12" height="22" fill="#2a2a2a"/>
  <rect x="498" y="1354" width="74" height="8" fill="#222"/>
 </g>
 <text class="d" x="564" y="1297" font-size="10.5" style="fill:#333">PLC</text>

 <!-- OPC -->
 <rect x="639" y="1284" width="65" height="21" rx="2" fill="#bcbcbc" stroke="#333"/>
 <text class="d" x="671.5" y="1294" font-size="9" text-anchor="middle" style="fill:#333">第三方OPC</text>
 <text class="d" x="671.5" y="1303" font-size="8.5" text-anchor="middle" style="fill:#333">Server</text>
 <g filter="url(#b)">
  <path d="M635,1358 L645,1353 L697,1353 L703,1358 L660,1361 Z" fill="#3a3a3a"/>
  <rect x="645" y="1318" width="40" height="36" fill="#ece6d4"/>
  <rect x="655" y="1313" width="18" height="8" fill="#ddd2b8"/>
  <rect x="650" y="1328" width="8" height="12" fill="#8a8268"/>
  <rect x="665" y="1326" width="14" height="16" fill="#d8ccb0"/>
  <ellipse cx="692" cy="1340" rx="7" ry="13" fill="#eee" stroke="#333" stroke-width="1.5"/>
 </g>

 <!-- SCADA cluster -->
 <path d="M783,1286 v17 a20.5,6 0 0 0 41,0 v-17 Z" fill="#8a8a8a"/><ellipse cx="803.5" cy="1286" rx="20.5" ry="5" fill="#a4a4a4" stroke="#666" stroke-width=".6"/>
 <text class="d" x="803.5" y="1301" font-size="10.5" text-anchor="middle" style="fill:#222">Database</text>
 <text class="d db" x="829" y="1287" font-size="11">SCADA</text>
 <rect x="873" y="1277" width="15" height="13" fill="#bbb" stroke="#666" stroke-width=".6"/><rect x="875" y="1279" width="11" height="9" fill="#2a68d0"/>
 <rect x="870" y="1290" width="20" height="7" fill="#c8c8b8" stroke="#666" stroke-width=".6"/>
 <rect x="876" y="1304" width="11" height="3" fill="#bbb" stroke="#555" stroke-width=".5"/>
 <g stroke="#333" stroke-width=".8" fill="none">
  <path d="M876,1308 L862,1314 L860,1311 L848,1318"/><path d="M881,1307 V1316 L884,1338"/>
  <path d="M870,1317 L860,1325 L862,1329 L854,1338"/><path d="M890,1318 L896,1330 L894,1333 L902,1342"/>
  <path d="M888,1306 L904,1312 L916,1316" stroke-width="1.2"/><path d="M882,1325 L880,1335 L884,1335 L881,1347"/>
 </g>
 <text class="d db" x="868" y="1320" font-size="8" style="fill:#d02040">Vulnerable</text>
 <use href="#rk" transform="translate(829,1324)"/><use href="#rk" transform="translate(916,1326)"/><use href="#rk" transform="translate(869,1351)"/>
 <use href="#mc" transform="translate(846,1345)"/><use href="#mc" transform="translate(896,1348)"/>
</g>

<!-- paragraph 2 -->
<text class="p" x="187" y="1427">“现场网”现场设备实时数据采集及指令下达，采用工业网络设备如工业路由器、工业</text>
<text class="p" x="137" y="1476">交换机、工业级网线连接入网。</text>

<!-- page number -->
<text x="646" y="1642" font-family="Liberation Serif,serif" font-weight="700" font-size="18" fill="#111">46</text>

<!-- watermark -->
<g fill="#fff" stroke="#b4b4b4" stroke-width="1">
 <path d="M853,1672 c12,0 20,8 20,17 c0,10 -9,17 -20,17 l-4,0 l-9,2 l3,-5 c-6,-3 -10,-8 -10,-14 c0,-9 9,-17 20,-17Z"/>
 <path d="M870,1687 c9,0 15,6 15,13 c0,6 -3,10 -8,12 l3,5 l-7,-3 c-10,1 -19,-5 -19,-14 c0,-7 7,-13 16,-13Z"/>
</g>
<g fill="#aaa"><circle cx="845" cy="1682" r="1.5"/><circle cx="859" cy="1682" r="1.5"/><circle cx="864" cy="1696" r="1.2"/><circle cx="875" cy="1696" r="1.2"/></g>
<text x="894" y="1708" font-family="Liberation Sans,Noto Sans CJK SC,sans-serif" font-size="31" fill="#fff" stroke="#a0a0a0" stroke-width=".7" textLength="305" lengthAdjust="spacing">微信号: MaysunMedia</text>
</svg>
</body></html>
